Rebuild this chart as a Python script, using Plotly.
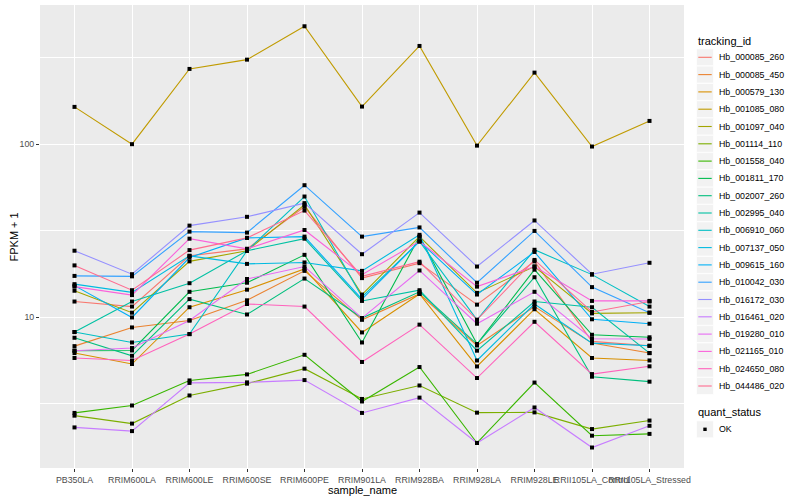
import plotly.graph_objects as go

samples = ["PB350LA", "RRIM600LA", "RRIM600LE", "RRIM600SE", "RRIM600PE", "RRIM901LA",
           "RRIM928BA", "RRIM928LA", "RRIM928LE", "RRII105LA_Control", "RRII105LA_Stressed"]

tracking_ids = ["Hb_000085_260", "Hb_000085_450", "Hb_000579_130", "Hb_001085_080", "Hb_001097_040",
                "Hb_001114_110", "Hb_001558_040", "Hb_001811_170", "Hb_002007_260", "Hb_002995_040",
                "Hb_006910_060", "Hb_007137_050", "Hb_009615_160", "Hb_010042_030", "Hb_016172_030",
                "Hb_016461_020", "Hb_019280_010", "Hb_021165_010", "Hb_024650_080", "Hb_044486_020"]

colors = ["#F8766D", "#EA8331", "#D89000", "#C09B00", "#A3A500", "#7CAE00", "#39B600", "#00BB4E",
          "#00BF7D", "#00C1A3", "#00BFC4", "#00BAE0", "#00B0F6", "#35A2FF", "#9590FF", "#C77CFF",
          "#E76BF3", "#FA62DB", "#FF62BC", "#FF6C90"]

quant_status = ["OK"]

# FPKM + 1 values, one list per tracking_id (same order as samples)
hb_000085_260 = [12.3, 11.5, 22.6, 24.8, 43.4, 16.8, 20.5, 11.8, 21.0, 7.23, 6.82]
hb_000085_450 = [6.79, 8.71, 9.56, 12.5, 18.5, 9.64, 13.6, 6.85, 11.5, 7.07, 6.19]
hb_000579_130 = [6.19, 5.35, 11.4, 14.4, 19.0, 8.15, 13.6, 5.18, 11.1, 5.80, 5.61]
hb_001085_080 = [164.3, 100.0, 272.4, 308.3, 480.8, 165.0, 370.0, 98.1, 259.3, 96.9, 136.3]
hb_001097_040 = [14.2, 10.6, 21.0, 24.2, 44.6, 13.5, 29.2, 13.8, 19.6, 10.5, 10.6]
hb_001114_110 = [2.69, 2.42, 3.52, 4.12, 5.03, 3.36, 4.02, 2.80, 2.81, 2.25, 2.52]
hb_001558_040 = [2.79, 3.08, 4.30, 4.66, 6.05, 3.25, 5.14, 1.87, 4.18, 2.06, 2.11]
hb_001811_170 = [6.39, 6.41, 14.0, 15.8, 22.9, 7.13, 29.2, 6.98, 18.8, 7.90, 7.64]
hb_002007_260 = [7.59, 5.97, 12.7, 10.35, 16.7, 9.87, 14.0, 6.98, 17.0, 4.52, 4.23]
hb_002995_040 = [8.19, 12.3, 15.7, 24.2, 28.4, 12.4, 14.3, 6.39, 12.3, 11.4, 6.19]
hb_006910_060 = [8.19, 7.13, 7.97, 24.2, 49.8, 13.1, 27.4, 9.64, 24.5, 17.6, 11.5]
hb_007137_050 = [15.5, 13.9, 22.6, 20.3, 20.7, 18.5, 29.9, 5.61, 11.9, 7.07, 6.82]
hb_009615_160 = [15.2, 9.95, 22.1, 28.7, 29.2, 12.7, 27.4, 13.5, 23.8, 9.71, 9.15]
hb_010042_030 = [17.3, 17.2, 31.2, 30.8, 57.9, 29.2, 33.0, 15.8, 31.5, 14.9, 10.6]
hb_016172_030 = [24.2, 17.7, 33.8, 38.0, 45.6, 23.1, 40.2, 19.6, 36.2, 17.7, 20.6]
hb_016461_020 = [2.30, 2.19, 4.16, 4.19, 4.32, 2.79, 3.42, 1.87, 3.00, 1.76, 2.35]
hb_019280_010 = [6.39, 6.62, 9.56, 16.6, 19.6, 9.87, 18.6, 9.15, 14.0, 7.49, 7.47]
hb_021165_010 = [15.0, 13.4, 28.4, 24.8, 31.9, 17.6, 27.4, 15.0, 19.6, 12.4, 12.4]
hb_024650_080 = [5.80, 5.61, 7.97, 11.9, 11.5, 5.50, 9.04, 4.44, 9.39, 4.68, 5.19]
hb_044486_020 = [19.9, 14.3, 24.4, 28.7, 41.3, 17.2, 20.9, 9.64, 21.4, 10.7, 12.3]

series = [hb_000085_260, hb_000085_450, hb_000579_130, hb_001085_080, hb_001097_040,
          hb_001114_110, hb_001558_040, hb_001811_170, hb_002007_260, hb_002995_040,
          hb_006910_060, hb_007137_050, hb_009615_160, hb_010042_030, hb_016172_030,
          hb_016461_020, hb_019280_010, hb_021165_010, hb_024650_080, hb_044486_020]

y_ticks = [10, 100]
y_minor = [3.1623, 31.623, 316.23]

FONT = "Liberation Sans, Arial, sans-serif"

# plot-area geometry in pixels (800x500 canvas)
L, R, T, B = 40, 684, 5, 468


def px_x(px):
    return (px - L) / (R - L)


def px_y(py):
    return (B - py) / (B - T)


fig = go.Figure()
for name, vals, col in zip(tracking_ids, series, colors):
    fig.add_trace(go.Scatter(x=samples, y=vals, mode="lines", name=name,
                             line=dict(color=col, width=1.1), hoverinfo="skip",
                             showlegend=False))

xs = [s for vals in series for s in samples]
ys = [v for vals in series for v in vals]
fig.add_trace(go.Scatter(x=xs, y=ys, mode="markers", name=quant_status[0], showlegend=False,
                         marker=dict(symbol="square", size=4, color="black")))

shapes = []
annotations = []

# legend: tracking_id
annotations.append(dict(text="tracking_id", xref="paper", yref="paper", x=px_x(696),
                        y=px_y(40.7), xanchor="left", yanchor="middle", showarrow=False,
                        font=dict(size=11, color="black")))
step = 17.3
for i, (name, col) in enumerate(zip(tracking_ids, colors)):
    cy = 57.3 + i * step
    shapes.append(dict(type="rect", xref="paper", yref="paper",
                       x0=px_x(696.6), x1=px_x(713.4), y0=px_y(cy - 8.4), y1=px_y(cy + 8.4),
                       fillcolor="#F2F2F2", line=dict(color="white", width=0.6), layer="below"))
    shapes.append(dict(type="line", xref="paper", yref="paper",
                       x0=px_x(698.3), x1=px_x(711.7), y0=px_y(cy), y1=px_y(cy),
                       line=dict(color=col, width=1.1)))
    annotations.append(dict(text=name, xref="paper", yref="paper", x=px_x(716.5), y=px_y(cy),
                            xanchor="left", yanchor="middle", showarrow=False,
                            font=dict(size=8.8, color="black")))

# legend: quant_status
annotations.append(dict(text="quant_status", xref="paper", yref="paper", x=px_x(696),
                        y=px_y(412.3), xanchor="left", yanchor="middle", showarrow=False,
                        font=dict(size=11, color="black")))
cy = 429.3
shapes.append(dict(type="rect", xref="paper", yref="paper",
                   x0=px_x(696.6), x1=px_x(713.4), y0=px_y(cy - 8.4), y1=px_y(cy + 8.4),
                   fillcolor="#F2F2F2", line=dict(color="white", width=0.6), layer="below"))
shapes.append(dict(type="rect", xref="paper", yref="paper",
                   x0=px_x(703.3), x1=px_x(706.7), y0=px_y(cy - 1.7), y1=px_y(cy + 1.7),
                   fillcolor="black", line=dict(width=0)))
annotations.append(dict(text=quant_status[0], xref="paper", yref="paper", x=px_x(716.5),
                        y=px_y(cy), xanchor="left", yanchor="middle", showarrow=False,
                        font=dict(size=8.8, color="black")))

# axis titles
annotations.append(dict(text="sample_name", xref="paper", yref="paper", x=0.5, y=px_y(489.5),
                        xanchor="center", yanchor="middle", showarrow=False,
                        font=dict(size=11, color="black")))
annotations.append(dict(text="FPKM + 1", xref="paper", yref="paper", x=px_x(13),
                        y=px_y(236.5), xanchor="center", yanchor="middle", showarrow=False,
                        textangle=-90, font=dict(size=11, color="black")))

fig.update_layout(
    width=800, height=500,
    margin=dict(l=L, r=800 - R, t=T, b=500 - B, autoexpand=False),
    paper_bgcolor="white", plot_bgcolor="#EBEBEB",
    font=dict(family=FONT, size=9, color="black"),
    showlegend=False,
    xaxis=dict(type="category", categoryorder="array", categoryarray=samples,
               range=[-0.6, 10.6], showgrid=True, gridcolor="white", gridwidth=1.1,
               zeroline=False, showline=False, ticks="outside", ticklen=3,
               tickcolor="#333333", tickangle=0, automargin=False,
               tickfont=dict(size=8.8, color="#4D4D4D")),
    yaxis=dict(type="log", range=[0.127, 2.805], tickvals=y_ticks,
               ticktext=[str(t) for t in y_ticks], automargin=False,
               showgrid=True, gridcolor="white", gridwidth=1.1, zeroline=False,
               ticks="outside", ticklen=3, tickcolor="#333333",
               tickfont=dict(size=8.8, color="#4D4D4D"),
               minor=dict(tickvals=y_minor, showgrid=True, gridcolor="white",
                          gridwidth=0.5, ticks="")),
    shapes=shapes,
    annotations=annotations,
)

fig.write_html("out.html", config={"displayModeBar": False},
               post_script="document.body.style.margin='0';document.body.style.overflow='hidden';")
